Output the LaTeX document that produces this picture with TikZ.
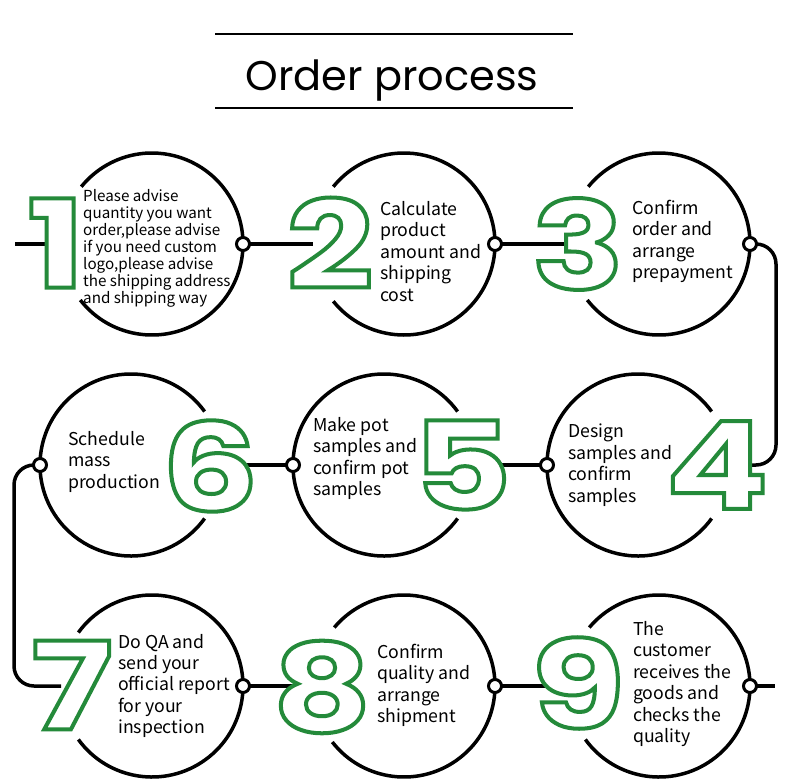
\documentclass[tikz,border=0pt]{standalone}
\usepackage{fontspec}
\setmainfont{Noto Sans CJK SC}
\newfontfamily\titlefont{Poppins}
\newfontfamily\digitfont{Poppins}[FakeStretch=1.25]
\definecolor{stepgreen}{RGB}{36,138,58}
\newcommand\outlined[1]{{\color{white}\special{pdf:literal direct 2 Tr 4 w 0.141 0.541 0.227 RG}#1\special{pdf:literal direct 0 Tr}}}
\tikzset{
  stepcircle/.style={circle, minimum size=182pt, inner sep=0pt, outer sep=0pt},
  ring/.style={draw=black, line width=3.5pt},
  conn/.style={draw=black, line width=3.5pt, rounded corners=20pt},
  knob/.style={circle, draw=black, fill=white, line width=3pt, minimum size=13pt, inner sep=0pt},
  digitbox/.style={inner sep=0pt, font=\digitfont\bfseries\fontsize{122}{122}\selectfont},
  steptext/.style={inner sep=0pt, anchor=west, align=left, font=\fontsize{17.7}{21.4}\selectfont},
  titleline/.style={draw=black, line width=2.7pt},
}
\begin{document}
\begin{tikzpicture}[x=1pt,y=-1pt]
\useasboundingbox[fill=white] (0,0) rectangle (790,782);
% title
\coordinate (tl1) at (215,34);
\coordinate (tr1) at (573,34);
\coordinate (tl2) at (215,108);
\coordinate (tr2) at (573,108);
\draw[titleline] (tl1) -- (tr1);
\draw[titleline] (tl2) -- (tr2);
\node[anchor=base, inner sep=0pt, font=\titlefont\fontsize{41.5}{41.5}\selectfont] (title) at (392,90.7) {Order process};
% circles (anchors) and their rings, open where the numbers sit
\node[stepcircle] (c1) at (152,244) {};
\node[stepcircle] (c2) at (404,244) {};
\node[stepcircle] (c3) at (659,244) {};
\node[stepcircle] (c4) at (638,465) {};
\node[stepcircle] (c5) at (384,465) {};
\node[stepcircle] (c6) at (131,465) {};
\node[stepcircle] (c7) at (152,686) {};
\node[stepcircle] (c8) at (404,686) {};
\node[stepcircle] (c9) at (659,686) {};
\draw[ring] (c1.218) arc[start angle=218, end angle=501, radius=91pt];
\draw[ring] (c2.219) arc[start angle=219, end angle=501, radius=91pt];
\draw[ring] (c3.218) arc[start angle=218, end angle=501, radius=91pt];
\draw[ring] (c4.36) arc[start angle=36, end angle=324, radius=91pt];
\draw[ring] (c5.36) arc[start angle=36, end angle=324, radius=91pt];
\draw[ring] (c6.36) arc[start angle=36, end angle=324, radius=91pt];
\draw[ring] (c7.216) arc[start angle=216, end angle=504, radius=91pt];
\draw[ring] (c8.218) arc[start angle=218, end angle=500, radius=91pt];
\draw[ring] (c9.216) arc[start angle=216, end angle=500, radius=91pt];
% connectors
\coordinate (start) at (15,244);
\coordinate (r1) at (776,244);
\coordinate (r2) at (776,465);
\coordinate (e4) at (742,465);
\coordinate (e6) at (243,465);
\coordinate (l1) at (14,465);
\coordinate (l2) at (14,686);
\coordinate (finish) at (775,686);
\draw[conn] (start) -- (c1.west);
\draw[conn] (c1.east) -- (c2.west);
\draw[conn] (c2.east) -- (c3.west);
\draw[conn] (c3.east) -- (r1) -- (r2) -- (e4);
\draw[conn] (c4.west) -- (c5.east);
\draw[conn] (c5.west) -- (e6);
\draw[conn] (c6.west) -- (l1) -- (l2) -- (c7.west);
\draw[conn] (c7.east) -- (c8.west);
\draw[conn] (c8.east) -- (c9.west);
\draw[conn] (c9.east) -- (finish);
% knobs
\node[knob] (k1) at (c1.east) {};
\node[knob] (k2) at (c2.east) {};
\node[knob] (k3) at (c3.east) {};
\node[knob] (k4) at (c4.west) {};
\node[knob] (k5) at (c5.west) {};
\node[knob] (k6) at (c6.west) {};
\node[knob] (k7) at (c7.east) {};
\node[knob] (k8) at (c8.east) {};
\node[knob] (k9) at (c9.east) {};
% numbers
\node[digitbox] (d1) at (56,243) {\outlined{1}};
\node[digitbox] (d2) at (330,243) {\outlined{2}};
\node[digitbox] (d3) at (578,244) {\outlined{3}};
\node[digitbox] (d4) at (717,465) {\outlined{4}};
\node[digitbox] (d5) at (462,465) {\outlined{5}};
\node[digitbox] (d6) at (210,466) {\outlined{6}};
\node[digitbox] (d7) at (72,685) {\outlined{7}};
\node[digitbox] (d8) at (322,687) {\outlined{8}};
\node[digitbox] (d9) at (578,683) {\outlined{9}};
% texts
\node[steptext, font=\fontsize{15.2}{17.1}\selectfont] (t1) at (83,248.5) {Please advise\\quantity you want\\order,please advise\\if you need custom\\logo,please advise\\the shipping address\\and shipping way};
\node[steptext] (t2) at (380,251.4) {Calculate\\product\\amount and\\shipping\\cost};
\node[steptext] (t3) at (632,241.3) {Confirm\\order and\\arrange\\prepayment};
\node[steptext] (t4) at (568,465.1) {Design\\samples and\\confirm\\samples};
\node[steptext] (t5) at (313,458.4) {Make pot\\samples and\\confirm pot\\samples};
\node[steptext] (t6) at (68,461.8) {Schedule\\mass\\production};
\node[steptext] (t7) at (118,685.9) {Do QA and\\send your\\official report\\for your\\inspection};
\node[steptext] (t8) at (377,685.4) {Confirm\\quality and\\arrange\\shipment};
\node[steptext] (t9) at (633,684.1) {The\\customer\\receives the\\goods and\\checks the\\quality};
\end{tikzpicture}
\end{document}
